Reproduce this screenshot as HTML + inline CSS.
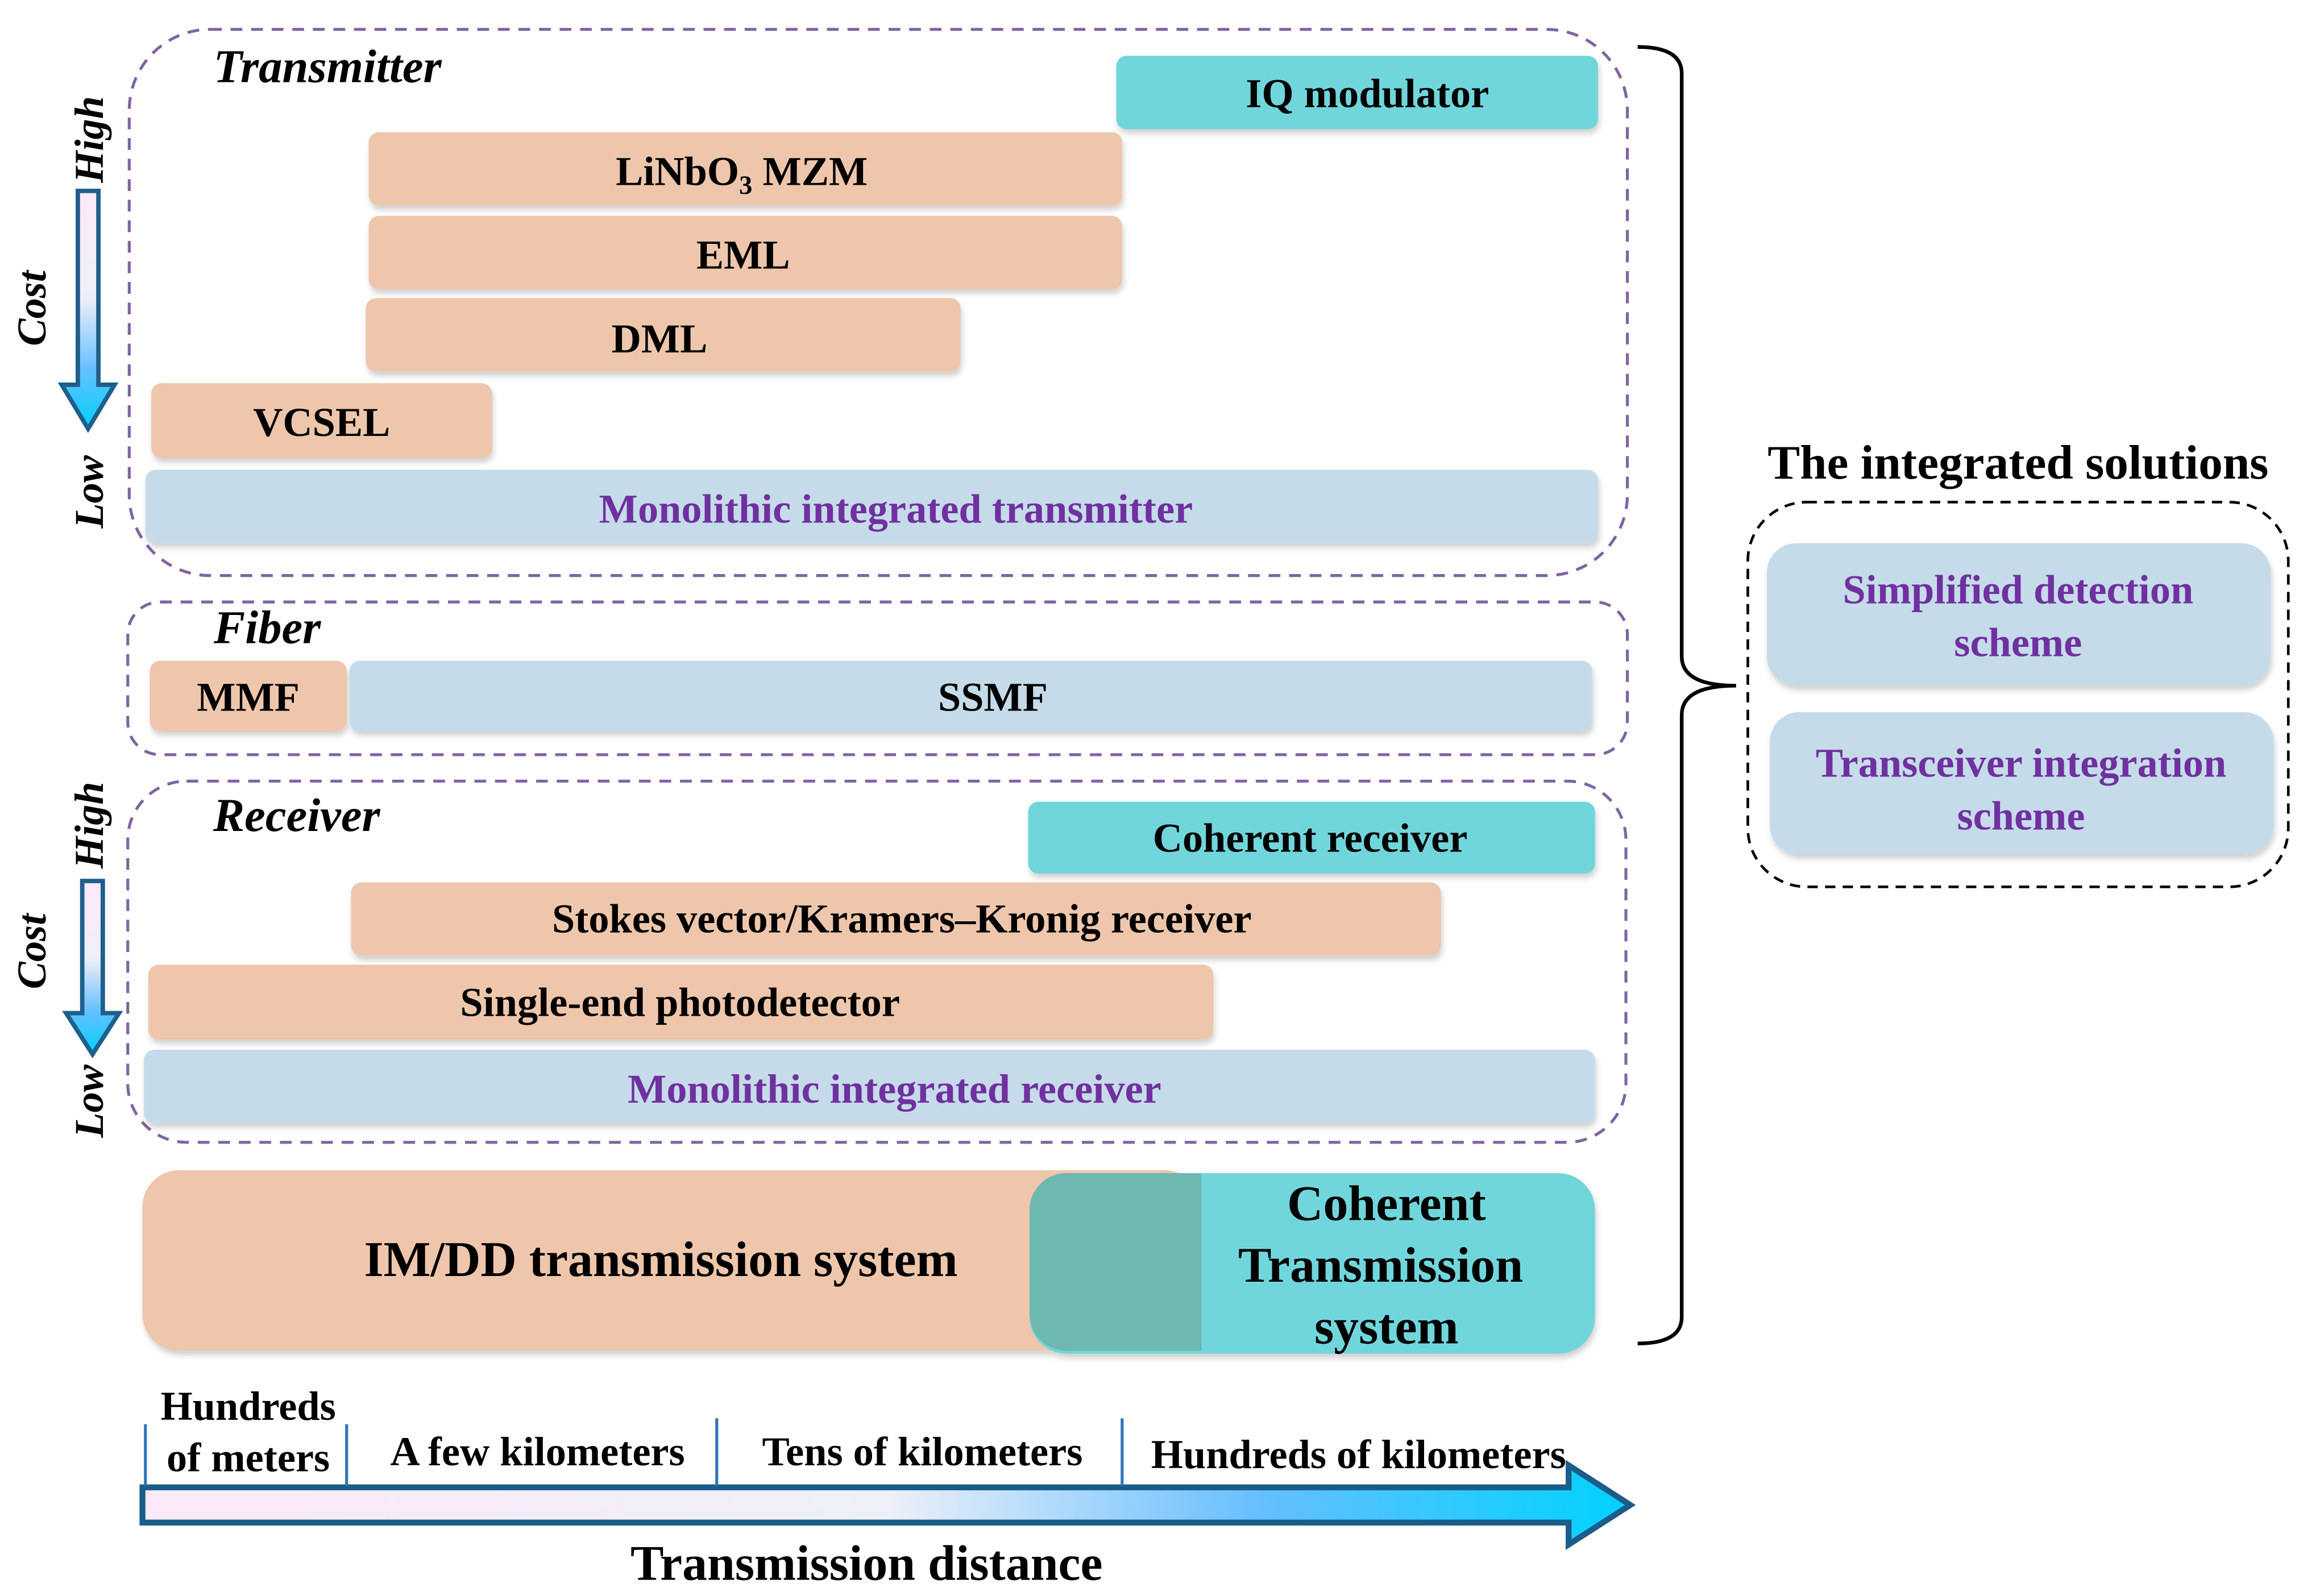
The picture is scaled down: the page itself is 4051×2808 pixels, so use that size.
<!DOCTYPE html>
<html><head><meta charset="utf-8"><style>html,body{margin:0;padding:0;background:#fff}svg{display:block}</style></head>
<body>
<svg xmlns="http://www.w3.org/2000/svg" width="4051" height="2808" viewBox="0 0 1568 1087" preserveAspectRatio="none" font-family="'Liberation Serif', serif" font-weight="bold">
<defs>
<linearGradient id="vg" x1="0" y1="0" x2="0" y2="1"><stop offset="0" stop-color="#fbe9f7"/><stop offset="0.45" stop-color="#eef0f8"/><stop offset="0.75" stop-color="#66bfff"/><stop offset="1" stop-color="#00d2ff"/></linearGradient>
<linearGradient id="hg" x1="0" y1="0" x2="1" y2="0"><stop offset="0" stop-color="#fbe9f7"/><stop offset="0.5" stop-color="#eef0f8"/><stop offset="0.75" stop-color="#66bfff"/><stop offset="1" stop-color="#00d2ff"/></linearGradient>
<filter id="sh" x="-5%" y="-10%" width="110%" height="130%"><feDropShadow dx="1" dy="3" stdDeviation="2" flood-color="#000" flood-opacity="0.18"/></filter>
</defs>
<g font-size="28" text-anchor="middle">
<rect x="88" y="20" width="1020" height="372" rx="55" fill="none" stroke="#8064a2" stroke-width="2" stroke-dasharray="8,6"/>
<text x="223" y="56" font-style="italic" font-size="32">Transmitter</text>
<g filter="url(#sh)">
<rect x="760" y="38" width="328" height="50" rx="7" fill="#6fd6dc"/>
<rect x="251" y="90" width="513" height="50" rx="7" fill="#eec6ab"/>
<rect x="251" y="147" width="513" height="50" rx="7" fill="#eec6ab"/>
<rect x="249" y="203" width="405" height="50" rx="7" fill="#eec6ab"/>
<rect x="103" y="261" width="232" height="51" rx="7" fill="#eec6ab"/>
<rect x="99" y="320" width="989" height="50" rx="7" fill="#c5dbe9"/>
</g>
<text x="931" y="73">IQ modulator</text>
<text x="505" y="126">LiNbO<tspan font-size="18" dy="6">3</tspan><tspan dy="-6"> MZM</tspan></text>
<text x="506" y="183">EML</text>
<text x="449" y="240">DML</text>
<text x="219" y="297">VCSEL</text>
<text x="610" y="356" fill="#7030a0">Monolithic integrated transmitter</text>
<rect x="87" y="410" width="1021" height="104" rx="22" fill="none" stroke="#8064a2" stroke-width="2" stroke-dasharray="8,6"/>
<text x="182" y="438" font-style="italic" font-size="32">Fiber</text>
<g filter="url(#sh)">
<rect x="102" y="450" width="134" height="48" rx="7" fill="#eec6ab"/>
<rect x="238" y="450" width="846" height="48" rx="7" fill="#c5dbe9"/>
</g>
<text x="169" y="484">MMF</text>
<text x="676" y="484">SSMF</text>
<rect x="87" y="532" width="1020" height="246" rx="40" fill="none" stroke="#8064a2" stroke-width="2" stroke-dasharray="8,6"/>
<text x="202" y="566" font-style="italic" font-size="32">Receiver</text>
<g filter="url(#sh)">
<rect x="700" y="546" width="386" height="49" rx="7" fill="#6fd6dc"/>
<rect x="239" y="601" width="742" height="50" rx="7" fill="#eec6ab"/>
<rect x="101" y="657" width="725" height="51" rx="7" fill="#eec6ab"/>
<rect x="98" y="715" width="988" height="50" rx="7" fill="#c5dbe9"/>
</g>
<text x="892" y="580">Coherent receiver</text>
<text x="614" y="635">Stokes vector/Kramers–Kronig receiver</text>
<text x="463" y="692">Single-end photodetector</text>
<text x="609" y="751" fill="#7030a0">Monolithic integrated receiver</text>
<g filter="url(#sh)">
<rect x="97" y="797" width="721" height="123" rx="25" fill="#eec6ab"/>
<rect x="701" y="799" width="385" height="123" rx="25" fill="#6fd6dc"/>
</g>
<path d="M726 799 H818 V920 H726 A25 25 0 0 1 701 895 V824 A25 25 0 0 1 726 799Z" fill="#6db8b0"/>
<text x="450" y="869" font-size="34">IM/DD transmission system</text>
<text x="944" y="831" font-size="34">Coherent</text>
<text x="940" y="873" font-size="34">Transmission</text>
<text x="944" y="915" font-size="34">system</text>
<path d="M1115 32 Q1145 32 1145 50 V447 Q1145 467 1182 467 Q1145 467 1145 487 V897 Q1145 915 1115 915" fill="none" stroke="#000" stroke-width="2.5"/>
<text x="1374" y="326" font-size="33">The integrated solutions</text>
<rect x="1190" y="342" width="368" height="262" rx="40" fill="none" stroke="#000" stroke-width="1.8" stroke-dasharray="7,5"/>
<g filter="url(#sh)">
<rect x="1203" y="370" width="343" height="97" rx="20" fill="#c5dbe9"/>
<rect x="1205" y="485" width="343" height="97" rx="20" fill="#c5dbe9"/>
</g>
<g fill="#7030a0">
<text x="1374" y="411">Simplified detection</text>
<text x="1374" y="447">scheme</text>
<text x="1376" y="529">Transceiver integration</text>
<text x="1376" y="565">scheme</text>
</g>
<path d="M53 130 H67 V262 H78 L60 292 L42 262 H53Z" fill="url(#vg)" stroke="#1f5f8b" stroke-width="3"/>
<text transform="translate(70,95) rotate(-90)" font-style="italic" font-size="28">High</text>
<text transform="translate(31,210) rotate(-90)" font-style="italic" font-size="28">Cost</text>
<text transform="translate(70,335) rotate(-90)" font-style="italic" font-size="28">Low</text>
<path d="M56 600 H70 V690 H81 L63 718 L45 690 H56Z" fill="url(#vg)" stroke="#1f5f8b" stroke-width="3"/>
<text transform="translate(70,562) rotate(-90)" font-style="italic" font-size="28">High</text>
<text transform="translate(31,648) rotate(-90)" font-style="italic" font-size="28">Cost</text>
<text transform="translate(70,750) rotate(-90)" font-style="italic" font-size="28">Low</text>
<path d="M97 1013 H1068 V998 L1110 1025 L1068 1052 V1037 H97Z" fill="url(#hg)" stroke="#1a5c8a" stroke-width="4"/>
<g stroke="#2e75b6" stroke-width="2"><line x1="99" y1="970" x2="99" y2="1012"/><line x1="236" y1="970" x2="236" y2="1012"/><line x1="488" y1="966" x2="488" y2="1012"/><line x1="764" y1="966" x2="764" y2="1012"/></g>
<text x="169" y="967">Hundreds</text>
<text x="169" y="1002">of meters</text>
<text x="366" y="998">A few kilometers</text>
<text x="628" y="998">Tens of  kilometers</text>
<text x="925" y="1000">Hundreds of  kilometers</text>
<text x="590" y="1076" font-size="34">Transmission distance</text>
</g>
</svg>
</body></html>
